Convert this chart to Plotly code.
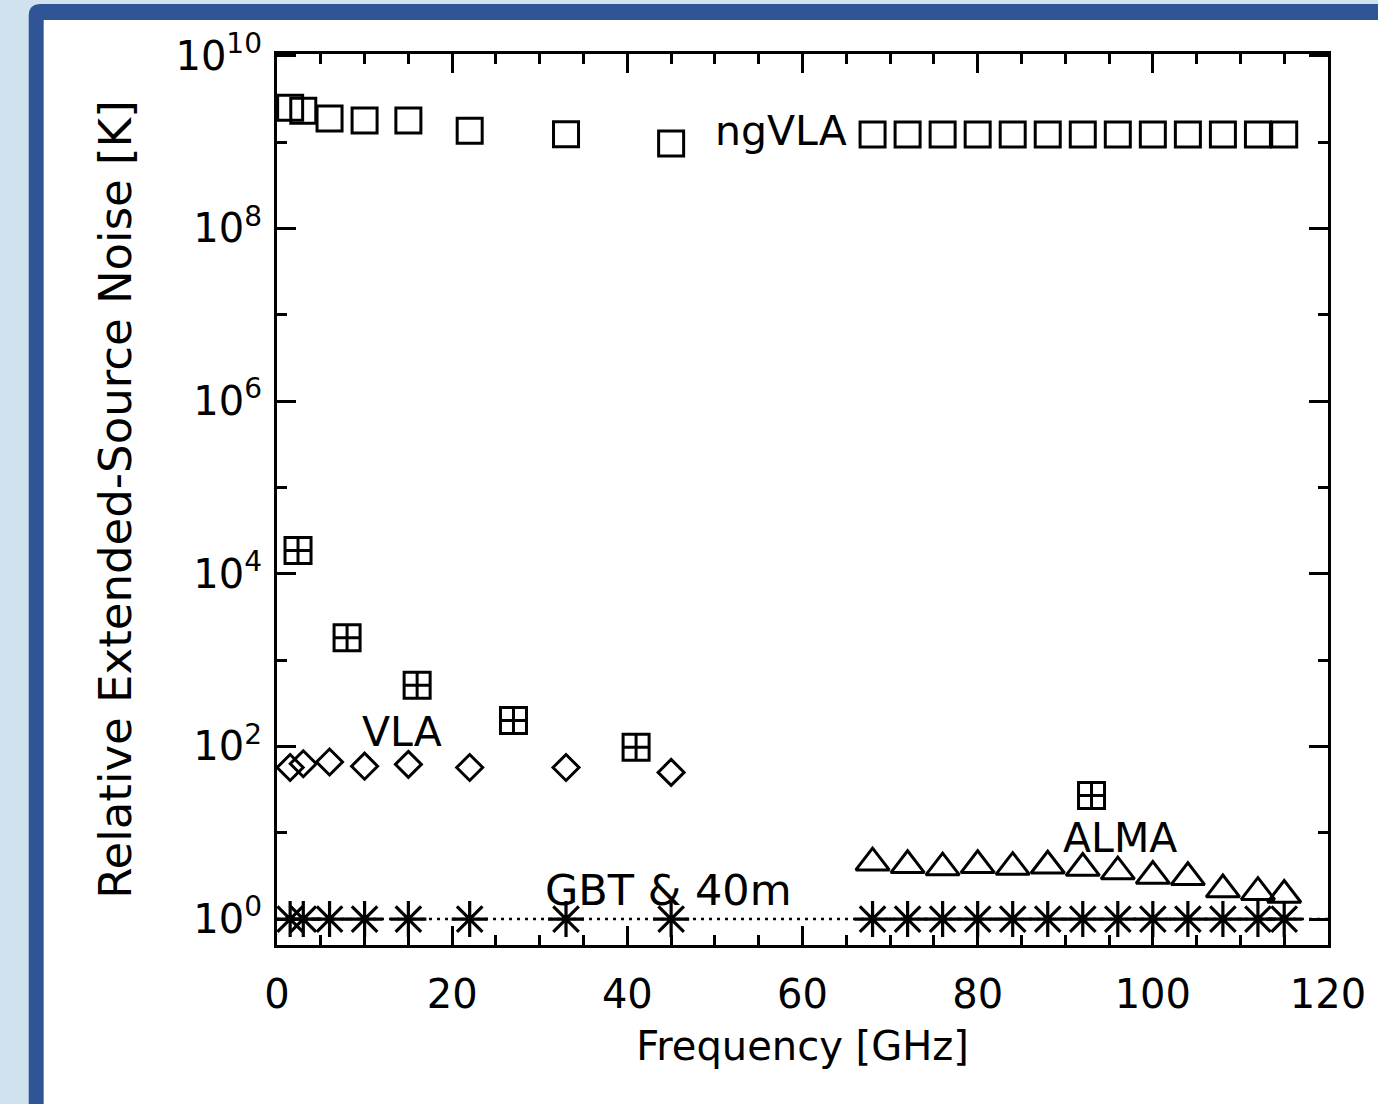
import math
import plotly.graph_objects as go

# ---------------- data ----------------
freq_vla = [1.5, 3, 6, 10, 15, 22, 33, 45]                     # GHz
freq_hi = [68, 72, 76, 80, 84, 88, 92, 96, 100, 104, 108, 112, 115]
freq_other = [2.4, 8, 16, 27, 41, 93]

ngvla_lo = [2.5e9, 2.3e9, 1.87e9, 1.78e9, 1.78e9, 1.35e9, 1.23e9, 9.6e8]
ngvla_hi = [1.22e9, 1.22e9, 1.22e9, 1.22e9, 1.22e9, 1.22e9, 1.22e9,
            1.22e9, 1.22e9, 1.22e9, 1.22e9, 1.22e9, 1.22e9]
vla = [57, 63, 66, 59, 62, 57, 57, 50]
alma = [4.5, 4.2, 3.95, 4.2, 4.0, 4.15, 3.9, 3.55, 3.15, 3.05, 2.2, 2.05, 1.9]
gbt_lo = [1, 1, 1, 1, 1, 1, 1, 1]
gbt_hi = [1, 1, 1, 1, 1, 1, 1, 1, 1, 1, 1, 1, 1]
other = [1.86e4, 1.82e3, 5.1e2, 2.0e2, 9.8e1, 2.7e1]

x_range = [0, 120]
ref_level = [1, 1]

y_tickvals = [1, 1e2, 1e4, 1e6, 1e8, 1e10]
y_ticktext = ["10<sup>0</sup>", "10<sup>2</sup>", "10<sup>4</sup>",
              "10<sup>6</sup>", "10<sup>8</sup>", "10<sup>10</sup>"]
y_minorvals = [10, 1e3, 1e5, 1e7, 1e9]

labels = ["ngVLA", "VLA", "GBT & 40m", "ALMA"]
label_x = [57.6, 14.25, 44.65, 96.2]
label_y = [1.35e9, 146, 2.17, 8.66]
label_size = [41, 41, 43, 41]

# ---------------- figure ----------------
FONT = "DejaVu Sans"
INK = "black"
LW = 3

fig = go.Figure()

fig.add_trace(go.Scatter(x=x_range, y=ref_level, mode="lines",
                         line=dict(color=INK, width=2.5, dash="3px,5px"),
                         hoverinfo="skip"))

def add_markers(x, y, symbol, size, lw=LW):
    fig.add_trace(go.Scatter(
        x=x, y=y, mode="markers",
        marker=dict(symbol=symbol, size=size, color=INK,
                    line=dict(color=INK, width=lw))))

add_markers(freq_vla, ngvla_lo, "square-open", 25)
add_markers(freq_hi, ngvla_hi, "square-open", 25)
add_markers(freq_vla, vla, "diamond-open", 20)
add_markers(freq_other, other, "square-cross-open", 26)
add_markers(freq_hi, alma, "triangle-up-open", 29)
add_markers(freq_vla, gbt_lo, "asterisk-open", 30, 3.2)
add_markers(freq_hi, gbt_hi, "asterisk-open", 30, 3.2)

for t, lx, ly, ls in zip(labels, label_x, label_y, label_size):
    fig.add_annotation(x=lx, y=math.log10(ly), text=t, showarrow=False,
                       xanchor="center", yanchor="middle",
                       font=dict(family=FONT, size=ls, color=INK))

# background frame (paper coordinates relative to the plot area)
L, R, T, B = 277, 47, 54, 159
W, H = 1378, 1104
pw, ph = W - L - R, H - T - B

def px(xp):
    return (xp - L) / pw

def py(yp):
    return (H - B - yp) / ph

x0, yt = px(28), py(4)
x1, yb = px(1420), py(1140)
rx, ry = 12 / pw, 12 / ph
frame_path = (f"M {x0},{yb} L {x0},{yt - ry} Q {x0},{yt} {x0 + rx},{yt} "
              f"L {x1},{yt} L {x1},{yb} Z")
fig.add_shape(type="path", path=frame_path, xref="paper", yref="paper",
              fillcolor="#2f5597", line=dict(width=0), layer="below")
fig.add_shape(type="rect", xref="paper", yref="paper",
              x0=px(43), y0=yb, x1=x1, y1=py(20),
              fillcolor="white", line=dict(width=0), layer="below")

axis_common = dict(
    showgrid=False, zeroline=False, showline=True, linecolor=INK,
    linewidth=LW, mirror="allticks", ticks="inside", tickcolor=INK,
    tickwidth=LW, ticklen=19,
    tickfont=dict(family=FONT, size=40, color=INK),
)

fig.update_xaxes(
    range=x_range, tickmode="linear", tick0=0, dtick=20,
    ticklabelstandoff=12,
    minor=dict(ticks="inside", dtick=5, ticklen=10, tickwidth=LW,
               tickcolor=INK, showgrid=False),
    title=dict(text="Frequency [GHz]", font=dict(family=FONT, size=40, color=INK),
               standoff=16),
    **axis_common)

fig.update_yaxes(
    type="log", range=[-0.30, 10.02], tickmode="array",
    tickvals=y_tickvals, ticktext=y_ticktext, ticklabelstandoff=4,
    minor=dict(ticks="inside", tickmode="array", tickvals=y_minorvals,
               ticklen=10, tickwidth=LW, tickcolor=INK, showgrid=False),
    title=dict(text="Relative Extended-Source Noise [K]",
               font=dict(family=FONT, size=45, color=INK), standoff=30),
    **axis_common)

fig.update_layout(
    width=W, height=H, autosize=False,
    margin=dict(l=L, r=R, t=T, b=B, pad=0),
    paper_bgcolor="#cfe2ee", plot_bgcolor="white",
    showlegend=False,
    font=dict(family=FONT, color=INK),
)

fig.write_html("out.html")
